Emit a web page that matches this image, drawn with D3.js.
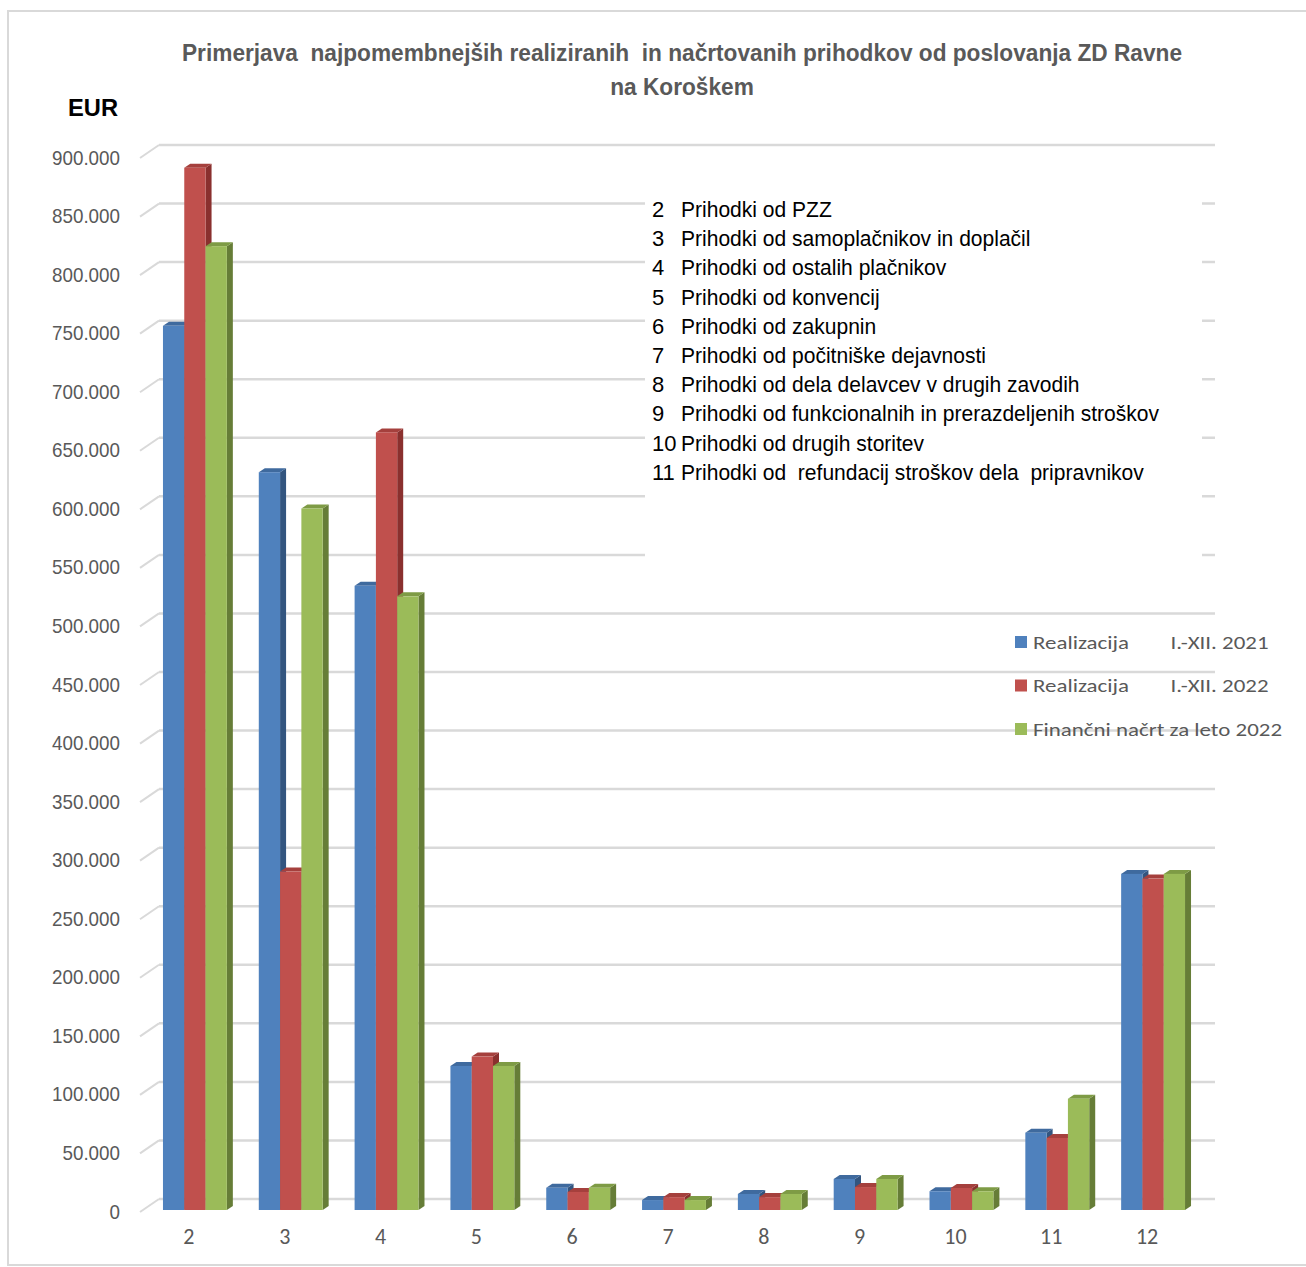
<!DOCTYPE html>
<html>
<head>
<meta charset="utf-8">
<script src="https://cdn.jsdelivr.net/npm/d3@7"></script>
<style>
  body { margin: 0; background: #fff; }
  text { white-space: pre; }
</style>
</head>
<body>
<script>
// categories (row numbers) and the three series, in EUR
var categories = ["2", "3", "4", "5", "6", "7", "8", "9", "10", "11", "12"];
var seriesNames = ["Realizacija        I.-XII. 2021", "Realizacija        I.-XII. 2022", "Finančni načrt za leto 2022"];
var real2021 = [755000, 630000, 533000, 123000, 19000, 8500, 13700, 26500, 16000, 66000, 287000];
var real2022 = [890000, 289000, 664000, 131000, 15400, 11000, 11000, 19600, 18800, 61500, 283000];
var plan2022 = [823000, 599000, 524000, 123000, 19000, 8500, 13700, 26500, 16000, 95000, 287000];
var yTicks = [0, 50000, 100000, 150000, 200000, 250000, 300000, 350000, 400000, 450000,
              500000, 550000, 600000, 650000, 700000, 750000, 800000, 850000, 900000];
var titleLines = ["Primerjava  najpomembnejših realiziranih  in načrtovanih prihodkov od poslovanja ZD Ravne", "na Koroškem"];
var listNumbers = ["2", "3", "4", "5", "6", "7", "8", "9", "10", "11"];
var listTexts = [
  "Prihodki od PZZ",
  "Prihodki od samoplačnikov in doplačil",
  "Prihodki od ostalih plačnikov",
  "Prihodki od konvencij",
  "Prihodki od zakupnin",
  "Prihodki od počitniške dejavnosti",
  "Prihodki od dela delavcev v drugih zavodih",
  "Prihodki od funkcionalnih in prerazdeljenih stroškov",
  "Prihodki od drugih storitev",
  "Prihodki od  refundacij stroškov dela  pripravnikov"
];

var W = 1306, H = 1267;
var narrow = "'Liberation Sans Narrow', 'Arial Narrow', 'Liberation Sans', Arial, sans-serif";
var calibri = "Carlito, Calibri, 'Open Sans', 'Noto Sans', sans-serif";

var colors = {
  front: ["#4F81BD", "#C0504D", "#9BBB59"],
  top:   ["#3F6A9E", "#A5403D", "#7E9B45"],
  side:  ["#33557F", "#8A302E", "#667D37"]
};

var series = [real2021, real2022, plan2022];

var svg = d3.select("body").append("svg")
    .attr("width", W)
    .attr("height", H);

// squeeze a set of texts so the reference one has the given width
function fitGroup(sel, refNode, width) {
  var s = width / refNode.getComputedTextLength();
  sel.each(function() {
    var len = this.getComputedTextLength();
    d3.select(this).attr("textLength", len * s).attr("lengthAdjust", "spacingAndGlyphs");
  });
}

// outer frame
svg.append("rect")
    .attr("x", 8).attr("y", 11)
    .attr("width", W + 20).attr("height", 1254)
    .attr("fill", "none")
    .attr("stroke", "#d9d9d9")
    .attr("stroke-width", 2);

var x = d3.scaleBand()
    .domain(categories)
    .range([141, 1195]);

var y = d3.scaleLinear()
    .domain([0, 900000])
    .range([1211, 157]);

// depth of the floor and of the columns
var floorDx = 18, floorDy = -12;
var barDx = 6, barDy = -4;
var barOffX = 6, barOffY = -1;

var bw = x.bandwidth() / 4.5;
var x1 = d3.scaleBand()
    .domain([0, 1, 2])
    .range([0, bw * 3]);

var fmt = d3.formatLocale({decimal: ",", thousands: ".", grouping: [3], currency: ["", "€"]}).format(",d");

// back wall gridlines and slanted ticks
var grid = svg.append("g");
grid.selectAll(".gl")
  .data(yTicks)
  .enter().append("line")
    .attr("x1", 141 + floorDx)
    .attr("x2", 1195 + floorDx + 2)
    .attr("y1", function(d) { return y(d) + floorDy; })
    .attr("y2", function(d) { return y(d) + floorDy; })
    .attr("stroke", "#d9d9d9")
    .attr("stroke-width", 2.5);

grid.selectAll(".sl")
  .data(yTicks)
  .enter().append("line")
    .attr("x1", 140)
    .attr("x2", 141 + floorDx)
    .attr("y1", function(d) { return y(d) + 1; })
    .attr("y2", function(d) { return y(d) + floorDy; })
    .attr("stroke", "#d9d9d9")
    .attr("stroke-width", 2);

// white box behind the list of categories
svg.append("rect")
    .attr("x", 645).attr("y", 190)
    .attr("width", 557).attr("height", 392)
    .attr("fill", "#fff");

// columns
var groups = svg.selectAll(".grp")
  .data(categories)
  .enter().append("g")
    .attr("class", "grp");

groups.each(function(cat, ci) {
  var g = d3.select(this);
  var gx = x(cat) + (x.bandwidth() - bw * 3) / 2 + barOffX;
  series.forEach(function(vals, si) {
    var bx = gx + x1(si);
    var top = y(vals[ci]) + barOffY;
    var bot = y(0) + barOffY;
    g.append("path")
        .attr("d", "M" + (bx + bw) + "," + top + "L" + (bx + bw + barDx) + "," + (top + barDy) +
                   "L" + (bx + bw + barDx) + "," + (bot + barDy) + "L" + (bx + bw) + "," + bot + "Z")
        .attr("fill", colors.side[si]);
    g.append("path")
        .attr("d", "M" + bx + "," + top + "L" + (bx + barDx) + "," + (top + barDy) +
                   "L" + (bx + bw + barDx) + "," + (top + barDy) + "L" + (bx + bw) + "," + top + "Z")
        .attr("fill", colors.top[si]);
    g.append("rect")
        .attr("x", bx)
        .attr("y", top)
        .attr("width", bw)
        .attr("height", bot - top)
        .attr("fill", colors.front[si]);
  });
});

// y labels
var yl = svg.append("g").selectAll("text")
  .data(yTicks)
  .enter().append("text")
    .attr("x", 120)
    .attr("y", function(d) { return y(d); })
    .attr("dy", "0.36em")
    .attr("text-anchor", "end")
    .attr("font-family", narrow)
    .attr("font-size", "21px")
    .attr("fill", "#595959")
    .text(function(d) { return fmt(d); });
fitGroup(yl, yl.nodes()[yTicks.length - 1], 68);

// x labels
svg.append("g").selectAll("text")
  .data(categories)
  .enter().append("text")
    .attr("x", function(d) { return x(d) + x.bandwidth() / 2; })
    .attr("y", 1236)
    .attr("dy", "0.36em")
    .attr("text-anchor", "middle")
    .attr("font-family", calibri)
    .attr("font-size", "22px")
    .attr("fill", "#595959")
    .text(function(d) { return d; });

// title
var tt = svg.append("g").selectAll("text")
  .data(titleLines)
  .enter().append("text")
    .attr("x", 682)
    .attr("y", function(d, i) { return 53 + i * 34; })
    .attr("dy", "0.36em")
    .attr("text-anchor", "middle")
    .attr("font-family", narrow)
    .attr("font-weight", "bold")
    .attr("font-size", "23px")
    .attr("fill", "#595959")
    .text(function(d) { return d; });
fitGroup(tt, tt.nodes()[0], 1000);

// EUR
var eur = svg.append("text")
    .attr("x", 68)
    .attr("y", 108)
    .attr("dy", "0.36em")
    .attr("font-family", narrow)
    .attr("font-weight", "bold")
    .attr("font-size", "23px")
    .attr("fill", "#000")
    .text("EUR");
fitGroup(eur, eur.node(), 50);

// list of categories
var list = svg.append("g");
list.selectAll(".num")
  .data(listNumbers)
  .enter().append("text")
    .attr("x", 652)
    .attr("y", function(d, i) { return 209 + i * 29.2; })
    .attr("dy", "0.36em")
    .attr("font-family", narrow)
    .attr("font-size", "22px")
    .attr("fill", "#000")
    .text(function(d) { return d; });
var lt = list.selectAll(".lt")
  .data(listTexts)
  .enter().append("text")
    .attr("x", 681)
    .attr("y", function(d, i) { return 209 + i * 29.2; })
    .attr("dy", "0.36em")
    .attr("font-family", narrow)
    .attr("font-size", "22px")
    .attr("fill", "#000")
    .text(function(d) { return d; });
fitGroup(lt, lt.nodes()[7], 478);

// legend
var legend = svg.selectAll(".legend")
  .data(seriesNames)
  .enter().append("g")
    .attr("class", "legend")
    .attr("transform", function(d, i) { return "translate(1015," + (642 + i * 43.5) + ")"; });

legend.append("rect")
    .attr("x", 0)
    .attr("y", -6)
    .attr("width", 12)
    .attr("height", 12)
    .attr("fill", function(d, i) { return colors.front[i]; });

var lg = legend.append("text")
    .attr("x", 18)
    .attr("y", 0)
    .attr("dy", "0.36em")
    .attr("font-family", calibri)
    .attr("font-size", "19px")
    .attr("fill", "#595959")
    .text(function(d) { return d; });
fitGroup(lg, lg.nodes()[2], 249);
</script>
</body>
</html>
